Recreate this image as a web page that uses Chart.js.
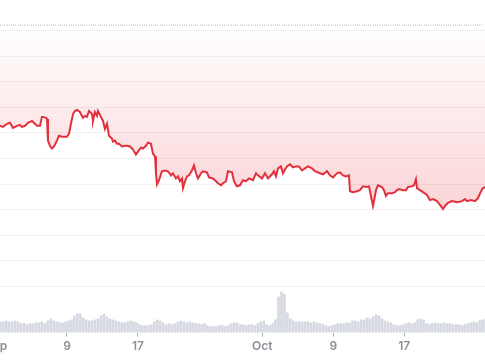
<!DOCTYPE html>
<html>
<head>
<meta charset="utf-8">
<script src="https://cdn.jsdelivr.net/npm/chart.js@4.4.1/dist/chart.umd.min.js"></script>
<style>
  html, body { margin: 0; padding: 0; background: #fff; }
  #wrap { position: relative; width: 485px; height: 360px; overflow: hidden; }
  #priceChart { position: absolute; left: -24px; top: 0; }
</style>
</head>
<body>
<div id="wrap">
  <canvas id="priceChart" width="509" height="360"></canvas>
</div>
<script>
// days counted from Sep 1
var tickDays = [0, 8, 16, 30, 38, 46];
var tickLabels = ["Sep", "9", "17", "Oct", "9", "17"];
var gridVals = [0, 1, 2, 3, 4, 5, 6, 7, 8, 9, 10];

var priceDays = [0.45, 0.79, 1.24, 1.58, 1.92, 2.37, 2.70, 2.93, 3.27, 3.61, 4.06, 4.39, 4.62, 4.96, 5.18, 5.30, 5.63, 5.75, 5.86, 6.08,
  6.31, 6.54, 6.87, 7.10, 7.44, 7.66, 8.00, 8.23, 8.45, 8.68, 8.90, 9.13, 9.46, 9.80, 10.03, 10.25, 10.48, 10.82, 10.93, 11.15,
  11.38, 11.49, 11.72, 12.06, 12.28, 12.51, 12.73, 13.07, 13.18, 13.41, 13.63, 13.86, 14.20, 14.54, 14.76, 15.10, 15.44, 15.77, 16.00, 16.34,
  16.56, 16.90, 17.13, 17.46, 17.69, 17.92, 18.03, 18.14, 18.37, 18.70, 19.04, 19.38, 19.72, 19.94, 20.28, 20.51, 20.73, 20.96, 21.07, 21.30,
  21.52, 21.75, 22.08, 22.31, 22.54, 22.76, 23.10, 23.32, 23.77, 24.00, 24.45, 24.68, 25.01, 25.35, 25.58, 25.92, 26.14, 26.59, 26.82, 27.15,
  27.49, 27.83, 28.17, 28.51, 28.96, 29.30, 29.52, 29.97, 30.31, 30.65, 31.10, 31.32, 31.55, 31.77, 32.11, 32.34, 32.56, 32.79, 33.13, 33.46,
  33.80, 34.14, 34.48, 34.82, 35.15, 35.61, 35.94, 36.51, 36.85, 37.30, 37.63, 37.97, 38.42, 38.76, 39.10, 39.44, 39.77, 39.89, 40.23, 40.68,
  41.01, 41.35, 41.80, 42.03, 42.25, 42.48, 42.59, 42.82, 43.04, 43.49, 43.72, 43.94, 44.17, 44.62, 44.96, 45.18, 45.41, 45.86, 46.20, 46.42,
  46.87, 47.10, 47.32, 47.44, 47.77, 48.11, 48.56, 48.90, 49.24, 49.69, 50.03, 50.37, 50.59, 50.93, 51.38, 51.94, 52.51, 52.85, 53.07, 53.52,
  53.97, 54.31, 54.65, 54.87, 55.21];

var priceValues = [6.28, 6.24, 6.36, 6.40, 6.20, 6.28, 6.32, 6.24, 6.28, 6.40, 6.47, 6.36, 6.28, 6.28, 6.63, 6.63, 6.59, 6.55, 5.70, 5.50,
  5.39, 5.47, 5.70, 5.89, 5.85, 5.85, 5.85, 5.97, 6.36, 6.74, 6.86, 6.90, 6.82, 6.59, 6.67, 6.63, 6.86, 6.74, 6.47, 6.82,
  6.67, 6.86, 6.71, 6.47, 6.16, 6.36, 5.89, 5.78, 5.66, 5.70, 5.58, 5.58, 5.47, 5.50, 5.50, 5.47, 5.35, 5.16, 5.27, 5.43,
  5.39, 5.50, 5.62, 5.58, 5.19, 5.08, 4.42, 3.99, 4.15, 4.50, 4.53, 4.50, 4.34, 4.42, 4.22, 4.30, 4.11, 4.22, 3.84, 4.11,
  4.30, 4.34, 4.53, 4.73, 4.42, 4.22, 4.42, 4.50, 4.46, 4.26, 4.22, 4.15, 4.03, 3.95, 4.03, 4.11, 4.50, 4.46, 4.11, 3.91,
  3.95, 4.15, 4.11, 4.22, 4.15, 4.42, 4.34, 4.22, 4.42, 4.22, 4.38, 4.50, 4.30, 4.61, 4.69, 4.42, 4.57, 4.69, 4.77, 4.65,
  4.69, 4.69, 4.53, 4.61, 4.69, 4.61, 4.50, 4.42, 4.38, 4.50, 4.34, 4.26, 4.42, 4.46, 4.34, 4.30, 4.34, 3.72, 3.68, 3.72,
  3.76, 3.91, 3.88, 3.91, 3.53, 3.14, 3.33, 3.76, 3.95, 3.88, 3.76, 3.53, 3.64, 3.64, 3.68, 3.76, 3.80, 3.76, 3.76, 3.88,
  3.91, 3.95, 4.19, 3.84, 3.76, 3.68, 3.57, 3.37, 3.41, 3.33, 3.18, 3.02, 3.14, 3.26, 3.33, 3.29, 3.33, 3.41, 3.33, 3.37,
  3.33, 3.45, 3.72, 3.84, 3.88];

// volume, one bar every 8 hours starting Sep 1 12:00
var volStart = 0.5;
var volStep = 1 / 3;
var volValues = [11, 11, 12, 11, 11, 12, 11, 9, 9, 8, 9, 9, 10, 10, 11, 9, 12, 14, 12, 11,
  10, 10, 11, 12, 13, 17, 19, 19, 15, 13, 12, 12, 13, 14, 17, 19, 16, 14, 13, 12,
  11, 10, 10, 11, 12, 11, 10, 8, 7, 7, 7, 8, 11, 13, 12, 10, 8, 9, 8, 9,
  11, 12, 11, 10, 11, 10, 9, 9, 8, 9, 7, 6, 6, 6, 7, 7, 6, 7, 9, 10,
  10, 8, 8, 7, 8, 8, 7, 9, 11, 12, 8, 7, 9, 13, 36, 41, 39, 20, 14, 12,
  11, 11, 11, 11, 11, 10, 11, 10, 9, 8, 7, 6, 7, 8, 9, 9, 9, 10, 10, 12,
  12, 11, 13, 13, 15, 14, 16, 18, 17, 14, 12, 11, 10, 8, 7, 7, 8, 9, 10, 9,
  10, 13, 14, 13, 9, 8, 9, 10, 9, 9, 10, 9, 9, 8, 8, 8, 7, 8, 9, 10,
  11, 10, 12, 13, 14];

var pricePoints = [];
for (var i = 0; i < priceDays.length; i++) {
  pricePoints.push({ x: priceDays[i], y: priceValues[i] });
}
var volPoints = [];
for (var j = 0; j < volValues.length; j++) {
  volPoints.push({ x: volStart + j * volStep, y: volValues[j] });
}

var lineRed = "#e2303d";

function redFill(context) {
  var chart = context.chart;
  var area = chart.chartArea;
  if (!area) return "rgba(234,57,67,0.12)";
  var g = chart.ctx.createLinearGradient(0, area.top, 0, area.bottom);
  g.addColorStop(0, "rgba(234,57,67,0)");
  g.addColorStop(1, "rgba(234,57,67,0.36)");
  return g;
}

new Chart("priceChart", {
  data: {
    datasets: [{
      type: "line",
      label: "Price",
      data: pricePoints,
      borderColor: lineRed,
      borderWidth: 2,
      backgroundColor: redFill,
      fill: "end",
      pointRadius: 0,
      tension: 0,
      xAxisID: "x",
      yAxisID: "y",
      order: 1
    }, {
      type: "bar",
      label: "Volume",
      data: volPoints,
      backgroundColor: "rgba(196,201,214,0.7)",
      barThickness: 2,
      xAxisID: "x",
      yAxisID: "yVol",
      order: 2
    }]
  },
  options: {
    responsive: false,
    animation: false,
    layout: { padding: { top: 26, bottom: 3, left: 0, right: 0 } },
    plugins: {
      legend: { display: false },
      tooltip: { enabled: false }
    },
    scales: {
      x: {
        type: "linear",
        position: "bottom",
        offset: false,
        min: -2.25,
        max: 55.1,
        afterBuildTicks: function(scale) {
          scale.ticks = tickDays.map(function(d) { return { value: d }; });
        },
        ticks: {
          autoSkip: false,
          maxRotation: 0,
          padding: 3,
          color: "#8a8f99",
          font: { family: "Inter", size: 12, weight: "600" },
          callback: function(value, index) { return tickLabels[index]; }
        },
        grid: { display: true, offset: false, drawOnChartArea: false, drawTicks: true, tickLength: 4, tickColor: "#a9adb5" },
        border: { display: false }
      },
      // faint dotted row above the plot: short tick marks of a hidden top axis
      xTop: {
        type: "linear",
        position: "top",
        offset: false,
        min: -2.25,
        max: 55.1,
        afterFit: function(scale) { scale.height = 0; },
        ticks: { display: false, stepSize: 0.25, maxTicksLimit: 400, autoSkip: false },
        grid: { display: true, drawOnChartArea: false, drawTicks: true, tickLength: 2, tickColor: "#dadce0" },
        border: { display: false }
      },
      y: {
        position: "left",
        min: -1.82,
        max: 10.19,
        afterBuildTicks: function(scale) {
          scale.ticks = gridVals.map(function(v) { return { value: v }; });
        },
        ticks: { display: false },
        grid: { color: "rgba(0,0,0,0.055)", drawTicks: false },
        border: { display: false }
      },
      yVol: {
        display: false,
        min: 0,
        max: 310
      }
    }
  }
});
</script>
</body>
</html>
